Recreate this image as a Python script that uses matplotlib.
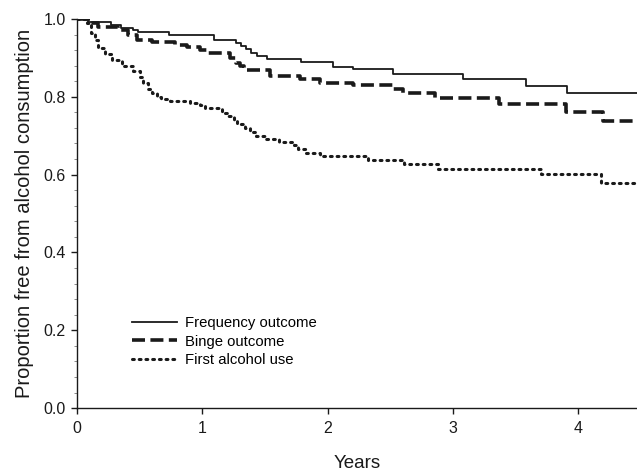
import numpy as np
import matplotlib
matplotlib.use("Agg")
import matplotlib.pyplot as plt
from matplotlib.ticker import MultipleLocator

plt.rcParams['font.family'] = ['Liberation Sans', 'DejaVu Sans']

# step curves (time in years, proportion free)
freq_t = [0, 0.09, 0.27, 0.35, 0.45, 0.49, 0.73, 1.09, 1.27, 1.31, 1.35, 1.39, 1.44,
          1.52, 1.79, 2.04, 2.20, 2.52, 3.08, 3.58, 3.91]
freq_s = [1.0, 0.992, 0.985, 0.978, 0.972, 0.967, 0.959, 0.946, 0.938, 0.930, 0.922, 0.913, 0.905,
          0.897, 0.889, 0.877, 0.871, 0.859, 0.846, 0.828, 0.810]

binge_t = [0, 0.10, 0.17, 0.33, 0.41, 0.48, 0.60, 0.78, 0.88, 0.98, 1.04, 1.22, 1.27, 1.30,
           1.33, 1.54, 1.78, 1.94, 2.20, 2.52, 2.60, 2.86, 3.37, 3.90, 4.20]
binge_s = [1.0, 0.99, 0.979, 0.972, 0.959, 0.946, 0.941, 0.933, 0.928, 0.920, 0.913, 0.900, 0.887, 0.878,
           0.869, 0.853, 0.846, 0.836, 0.830, 0.820, 0.810, 0.797, 0.781, 0.761, 0.738]

first_t = [0, 0.08, 0.11, 0.14, 0.17, 0.22, 0.28, 0.36, 0.45, 0.50, 0.53, 0.57, 0.60, 0.64,
           0.67, 0.74, 0.80, 0.90, 0.98, 1.02, 1.09, 1.16, 1.20, 1.25, 1.28, 1.34, 1.38, 1.43,
           1.50, 1.61, 1.68, 1.73, 1.76, 1.83, 1.94, 2.32, 2.61, 2.88, 3.70, 4.18]
first_s = [1.0, 0.99, 0.965, 0.945, 0.925, 0.91, 0.895, 0.88, 0.865, 0.85, 0.835, 0.82, 0.81, 0.80,
           0.795, 0.789, 0.789, 0.785, 0.779, 0.771, 0.771, 0.758, 0.75, 0.74, 0.73, 0.72, 0.709,
           0.70, 0.692, 0.684, 0.684, 0.675, 0.665, 0.656, 0.648, 0.638, 0.627, 0.614, 0.602, 0.578]

labels = ['Frequency outcome', 'Binge outcome', 'First alcohol use']

fig = plt.figure(figsize=(6.37, 4.74), dpi=100)
ax = fig.add_axes([0.121, 0.139, 0.879, 0.821])

col = '#1a1a1a'
ax.step(freq_t + [4.6], freq_s + [freq_s[-1]], where='post', color=col, lw=1.3,
        label=labels[0])
ax.step(binge_t + [4.6], binge_s + [binge_s[-1]], where='post', color=col, lw=2.6,
        dashes=(3.6, 1.5), label=labels[1])
ax.step(first_t + [4.6], first_s + [first_s[-1]], where='post', color=col, lw=2.2,
        dashes=(0.6, 1.6), dash_capstyle='round', label=labels[2])

ax.set_xlim(0, 4.47)
ax.set_ylim(0, 1.0)
ax.xaxis.set_major_locator(MultipleLocator(1))
ax.yaxis.set_major_locator(MultipleLocator(0.2))
ax.yaxis.set_minor_locator(MultipleLocator(0.04))
ax.set_yticklabels([f'{v:.1f}' for v in ax.get_yticks()])
ax.spines['top'].set_visible(False)
ax.spines['right'].set_visible(False)
for s in ['left', 'bottom']:
    ax.spines[s].set_linewidth(1.0)
    ax.spines[s].set_color(col)
ax.tick_params(axis='both', which='major', direction='out', length=4, width=1,
               labelsize=11.5, colors=col, pad=4)
ax.tick_params(axis='y', which='minor', direction='out', length=2.5, width=0.6, colors='#777777')
ax.tick_params(axis='x', pad=5)

ax.set_xlabel('Years', fontsize=13.5, labelpad=14, color=col)
ax.set_ylabel('Proportion free from alcohol consumption', fontsize=14.5, labelpad=7, color=col)

leg = ax.legend(loc='upper left', bbox_to_anchor=(0.075, 0.27), frameon=False,
                fontsize=10.7, handlelength=3.0, handletextpad=0.55, labelspacing=0.28)

fig.savefig('out.png', dpi=100)
